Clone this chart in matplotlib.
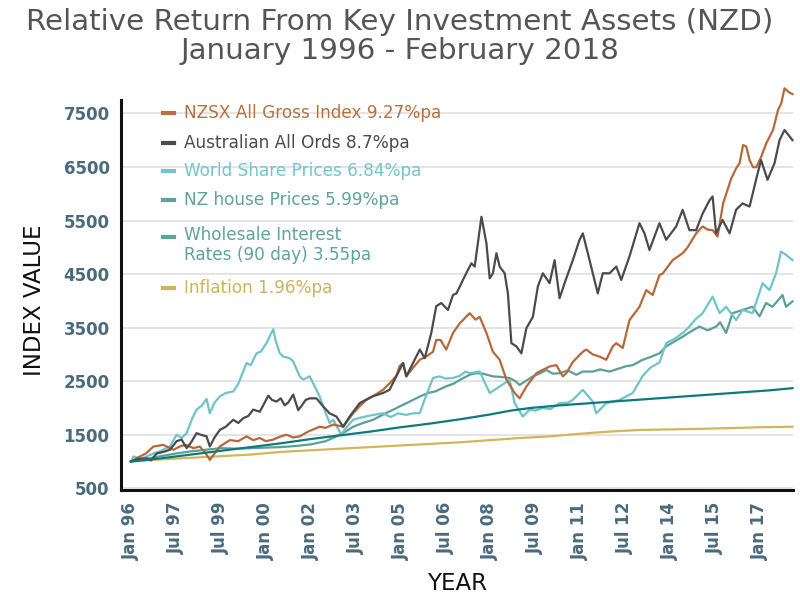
import matplotlib
matplotlib.use("Agg")
import matplotlib.pyplot as plt
from matplotlib.lines import Line2D

# ---------------- data (month index from Jan 1996) ----------------
tick_labels = ["Jan 96", "Jul 97", "Jul 99", "Jan 00", "Jan 02", "Jul 03", "Jan 05",
               "Jul 06", "Jan 08", "Jul 09", "Jan 11", "Jul 12", "Jan 14", "Jul 15", "Jan 17"]
tick_months = [0, 18, 36, 54, 72, 90, 108, 126, 144, 162, 180, 198, 216, 234, 252]

nzsx_m = [0, 3, 6, 9, 13, 17, 20, 22, 25, 27.6, 30, 31.6, 33, 35.6, 39.6, 43, 46.3, 49, 51.6, 54,
          57, 60, 62.3, 65, 67.6, 71, 75.6, 78, 81, 85, 89, 92, 94.3, 98, 101, 103.6, 106.3, 107.6,
          109, 110.3, 113, 115.7, 118.3, 121, 122.3, 124, 126.3, 129, 131.7, 135.7, 138, 139.7,
          142.4, 145, 147.7, 150.4, 153.7, 155.7, 158.4, 162.4, 167.7, 170.4, 173, 174.4, 177, 181,
          182.4, 185, 187.7, 190.4, 193, 194.4, 197, 199.7, 203.7, 206.4, 209, 211.7, 213, 217, 221,
          223, 226.4, 229, 231, 233, 235, 237.2, 240.5, 242.5, 243.8, 245.2, 246.5, 247.8, 249.2,
          250.5, 252.5, 254.5, 257.2, 259.2, 260.5, 261.8, 263.8, 265]
nzsx_v = [1000, 1080, 1150, 1280, 1310, 1220, 1290, 1310, 1250, 1280, 1150, 1030, 1120, 1280, 1400,
          1380, 1470, 1400, 1440, 1380, 1410, 1470, 1500, 1450, 1470, 1560, 1650, 1630, 1690, 1650,
          1900, 2050, 2150, 2250, 2340, 2460, 2600, 2780, 2840, 2590, 2750, 2900, 2960, 3050, 3270,
          3270, 3090, 3400, 3580, 3770, 3650, 3700, 3400, 3050, 2900, 2530, 2280, 2180, 2400, 2650,
          2775, 2800, 2590, 2650, 2860, 3050, 3090, 3000, 2960, 2900, 3150, 3210, 3120, 3640, 3890,
          4200, 4110, 4480, 4510, 4760, 4890, 5000, 5260, 5390, 5330, 5320, 5200, 5820, 6290, 6480,
          6570, 6910, 6880, 6630, 6495, 6495, 6694, 6943, 7191, 7564, 7688, 7968, 7887, 7860]

aus_m = [0, 3, 6.3, 8, 10.3, 13, 15.6, 18.3, 20.3, 22.3, 24, 26.3, 28, 30.3, 31.6, 33.5, 35.6, 38,
         41, 43, 45, 47, 49, 51.6, 53, 55, 56.5, 58.3, 60, 61.6, 63, 65, 67, 68.5, 70, 71.6, 74.3,
         77, 79.6, 82.3, 85, 87.6, 91.6, 94, 97, 101, 103.6, 106.3, 109, 110.3, 113, 115.7, 117.7,
         120.3, 122.3, 124.3, 127, 129, 130.4, 133, 135, 136.4, 137.7, 140.4, 142.4, 143.7, 145,
         146.4, 147.7, 149.7, 151, 152.4, 154.4, 156.4, 158.4, 161, 163, 165, 167.7, 169.7, 171.7,
         173.7, 177, 179.7, 181, 183, 185, 187, 189, 191.7, 194.4, 196.4, 199.7, 203.7, 205.7,
         207.7, 211.7, 214.4, 218.4, 221, 223.7, 226.4, 229, 231.8, 233, 234.4, 237, 239.8, 242.4,
         245, 247.8, 250.4, 252.4, 255, 257.8, 259.8, 261.8, 265]
aus_v = [1000, 1050, 1060, 1020, 1150, 1180, 1220, 1380, 1410, 1250, 1350, 1530, 1500, 1470, 1280,
         1450, 1590, 1650, 1780, 1720, 1810, 1850, 1970, 1930, 2050, 2230, 2150, 2120, 2180, 2050,
         2100, 2250, 1960, 2050, 2150, 2180, 2180, 2030, 1900, 1840, 1650, 1840, 2090, 2150, 2220,
         2280, 2340, 2590, 2840, 2590, 2840, 3090, 2930, 3400, 3900, 3960, 3830, 4110, 4140, 4390,
         4580, 4700, 4640, 5570, 5075, 4420, 4515, 4890, 4640, 4515, 4140, 3210, 3150, 3020, 3490,
         3700, 4270, 4515, 4330, 4760, 4050, 4330, 4760, 5140, 5260, 4890, 4515, 4140, 4515, 4515,
         4640, 4390, 4830, 5450, 5260, 4950, 5450, 5140, 5390, 5700, 5320, 5320, 5630, 5880, 5950,
         5260, 5510, 5260, 5700, 5820, 5760, 6260, 6630, 6260, 6570, 7000, 7190, 7000]

world_m = [0, 1, 4, 6.3, 9, 11.6, 15.6, 18.3, 20.3, 22.3, 24.5, 26.3, 28.5, 30.3, 31.6, 33.5, 35.6,
           38, 41, 43, 46.3, 48, 50.3, 52, 54.3, 56, 57, 58, 59.6, 61, 63.6, 65, 67.6, 69, 71.6, 73,
           75.6, 77, 79.6, 81, 84.3, 86, 89, 92, 97, 101, 104, 107, 110.3, 113, 115.7, 118, 121,
           123.6, 126, 129, 131.7, 134, 135.7, 139.7, 141.5, 143.7, 147.7, 151.7, 153.7, 157, 159.7,
           162, 165, 168, 171.7, 175, 177, 181, 185, 186.4, 190.4, 195.7, 201, 205, 208, 211.7, 214.4,
           218, 221, 223.7, 226, 229, 233, 235.8, 238.4, 242.4, 245, 249, 253, 255.8, 258.4, 260.4,
           262.4, 265]
world_v = [1000, 1095, 1050, 1095, 1150, 1190, 1280, 1500, 1440, 1530, 1800, 1970, 2050, 2170, 1900,
           2100, 2215, 2280, 2310, 2450, 2840, 2800, 3020, 3050, 3210, 3380, 3470, 3250, 3025, 2960,
           2930, 2870, 2590, 2530, 2590, 2460, 2215, 2030, 1720, 1780, 1500, 1620, 1780, 1820, 1870,
           1900, 1830, 1900, 1870, 1900, 1905, 2200, 2560, 2590, 2550, 2560, 2600, 2680, 2650, 2680,
           2500, 2280, 2400, 2526, 2090, 1840, 1970, 1950, 2000, 1980, 2090, 2100, 2150, 2340, 2120,
           1900, 2090, 2150, 2280, 2600, 2750, 2850, 3210, 3300, 3400, 3520, 3650, 3770, 4080, 3770,
           3890, 3640, 3830, 3770, 4330, 4200, 4515, 4920, 4860, 4760]

house_m = [0, 6, 12, 18, 24, 30, 36, 42, 48, 54, 60, 66, 72, 78, 82.3, 86, 89, 93, 97, 102, 106,
           109, 113, 116, 119, 122, 126, 129, 132, 135.7, 138.4, 141, 145, 148, 151.7, 154, 155.7,
           158, 161, 164, 166.4, 169, 171.7, 175, 178.4, 181, 185, 188, 191.7, 195, 198.4, 201, 205,
           208, 211.7, 214.4, 218, 221, 224, 227.7, 231, 234.4, 236, 238.4, 241, 245, 249, 251.8,
           254.4, 257, 261, 262.4, 265]
house_v = [1000, 1050, 1100, 1150, 1190, 1220, 1250, 1240, 1250, 1260, 1270, 1290, 1320, 1380, 1470,
           1560, 1650, 1720, 1780, 1900, 1990, 2060, 2150, 2220, 2280, 2310, 2400, 2450, 2530, 2620,
           2650, 2640, 2590, 2580, 2560, 2500, 2430, 2500, 2590, 2650, 2710, 2640, 2650, 2700, 2620,
           2680, 2680, 2720, 2680, 2730, 2780, 2800, 2900, 2950, 3020, 3150, 3250, 3330, 3420, 3520,
           3450, 3520, 3600, 3400, 3770, 3830, 3890, 3710, 3960, 3890, 4110, 3890, 3990]

rate_m = [0, 12, 24, 36, 48, 60, 72, 84, 96, 108, 120, 132, 144, 152, 160, 172, 184, 196, 208, 220,
          232, 244, 256, 265]
rate_v = [1000, 1060, 1130, 1200, 1270, 1340, 1420, 1490, 1560, 1640, 1710, 1790, 1880, 1950, 2000,
          2050, 2090, 2130, 2170, 2210, 2250, 2290, 2330, 2370]

infl_m = [0, 12, 24, 36, 48, 60, 72, 84, 96, 108, 120, 132, 144, 156, 168, 180, 192, 204, 216, 228,
          240, 252, 265]
infl_v = [1000, 1040, 1070, 1100, 1130, 1180, 1210, 1240, 1270, 1300, 1330, 1360, 1400, 1440, 1470,
          1520, 1560, 1590, 1600, 1610, 1625, 1640, 1650]

y_ticks = [500, 1500, 2500, 3500, 4500, 5500, 6500, 7500]

series = [
    ("Inflation 1.96%pa", infl_m, infl_v, "#d5b55a", "#d0b25a"),
    ("NZ house Prices 5.99%pa", house_m, house_v, "#5b9f97", "#5ea39c"),
    ("World Share Prices 6.84%pa", world_m, world_v, "#6dc4c9", "#72c5c9"),
    ("NZSX All Gross Index 9.27%pa", nzsx_m, nzsx_v, "#b5693a", "#b8703f"),
    ("Australian All Ords 8.7%pa", aus_m, aus_v, "#4b4b4d", "#4b4b4d"),
    ("Wholesale Interest\nRates (90 day) 3.55pa", rate_m, rate_v, "#0d7a7f", "#5ea39c"),
]

# ---------------- figure ----------------
W, H = 800, 609
fig = plt.figure(figsize=(W / 100, H / 100), dpi=100)
ax = fig.add_axes([120.7 / W, 1 - 489.5 / H, (793 - 120.7) / W, (489.5 - 100) / H])

for name, m, v, col, _ in series:
    ax.plot(m, v, color=col, lw=1.6, clip_on=False, solid_joinstyle="round")

ax.set_xlim(-4.1, 265.2)
ax.set_ylim(478, 7750)
ax.set_yticks(y_ticks)
ax.set_yticklabels([str(t) for t in y_ticks])
ax.set_xticks(tick_months)
ax.set_xticklabels(tick_labels, rotation=90)
ax.grid(axis="y", color="#dcdcdc", lw=1.1)
ax.set_axisbelow(True)
for s in ("top", "right"):
    ax.spines[s].set_visible(False)
for s in ("left", "bottom"):
    ax.spines[s].set_color("#111111")
    ax.spines[s].set_linewidth(2.2)
ax.tick_params(axis="both", length=0, labelcolor="#4a6a7e")
ax.tick_params(axis="y", pad=8)
ax.tick_params(axis="x", pad=9)
for lab in ax.get_yticklabels() + ax.get_xticklabels():
    lab.set_fontweight("bold")
    lab.set_fontsize(12)

# title
fig.text(0.5, 1 - 22 / H, "Relative Return From Key Investment Assets (NZD)", ha="center",
         va="center", fontsize=21.2, color="#555555")
fig.text(0.5, 1 - 51 / H, "January 1996 - February 2018", ha="center", va="center",
         fontsize=21.2, color="#555555")

# axis labels
fig.text(35 / W, 1 - 300 / H, "INDEX VALUE", rotation=90, ha="center", va="center",
         fontsize=16.5, color="#111111")
fig.text(457 / W, 1 - 584 / H, "YEAR", ha="center", va="center", fontsize=16.5, color="#111111")

# manual legend
legend_order = [3, 4, 2, 1, 5, 0]
legend_y = [112.7, 143.3, 171, 200, 245, 288.3]
marker_y = [112.7, 143.3, 171, 200, 236.7, 288.3]
for idx, ty, my in zip(legend_order, legend_y, marker_y):
    name, _, _, col, tcol = series[idx]
    fig.add_artist(Line2D([163 / W, 174 / W], [1 - my / H, 1 - my / H], color=tcol, lw=3))
    fig.text(184 / W, 1 - ty / H, name, ha="left", va="center", fontsize=12.2, color=tcol,
             linespacing=1.15)

fig.savefig("out.png", dpi=100)
